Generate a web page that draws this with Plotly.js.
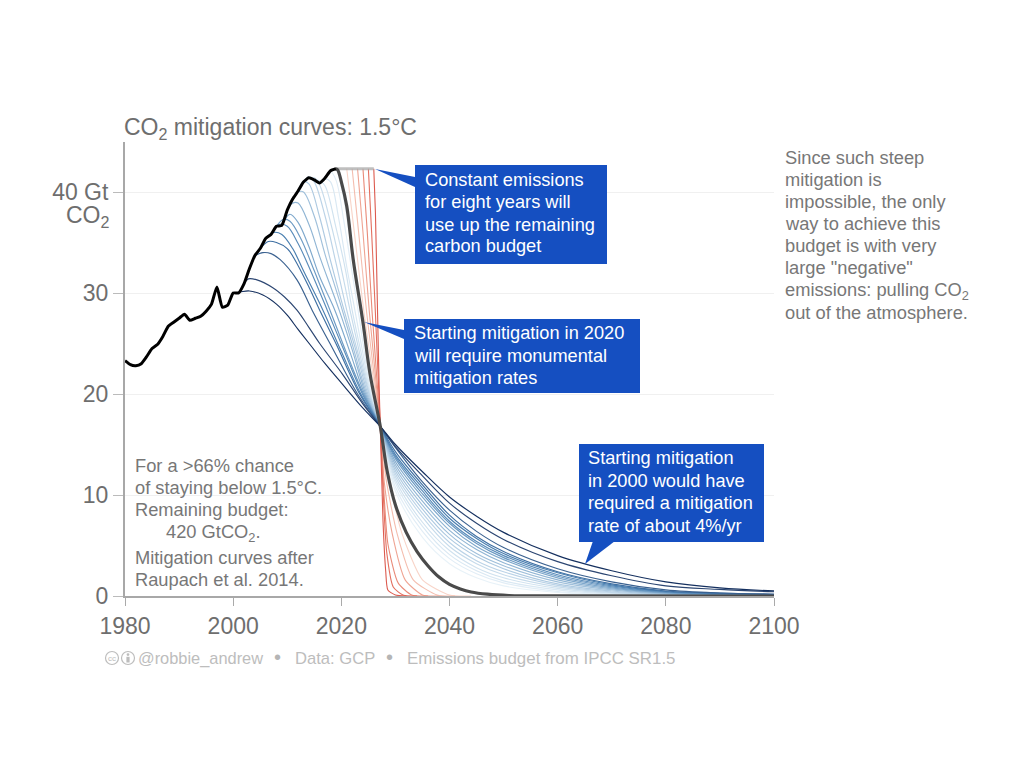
<!DOCTYPE html>
<html><head><meta charset="utf-8">
<script src="https://cdn.plot.ly/plotly-3.0.1.min.js"></script>
<style>html,body{margin:0;padding:0;background:#fff}#c{width:1024px;height:768px}</style>
</head><body><div id="c"></div>
<script>
// History
const histYears=[1980,1981,1982,1983,1984,1985,1986,1987,1988,1989,1990,1991,1992,1993,1994,1995,1996,1997,1998,1999,2000,2001,2002,2003,2004,2005,2006,2007,2008,2009,2010,2011,2012,2013,2014,2015,2016,2017,2018,2019];
const histVals=[23.3,22.9,22.8,23.0,23.7,24.5,24.9,25.7,26.7,27.1,27.5,27.9,27.3,27.5,27.7,28.2,28.9,30.6,28.6,28.8,30.0,30.0,30.9,32.4,33.7,34.4,35.4,35.8,36.6,36.7,38.2,39.3,40.1,41.0,41.4,41.2,40.9,41.4,42.1,42.3];
const constYears=[2019,2026];
const constVals=[42.3,42.3];
// Shared tail years for the blue curves
const tailYears=[2027.2,2030,2035,2040,2045,2050,2060,2070,2080,2090,2100];
// Blue curves: start-of-mitigation year, head and tail
const hx2000=[2000,2001.3,2003,2005.5,2008,2010,2012,2014.2,2017,2020,2024];
const hy2000=[30.0,30.1,30.2,29.8,28.9,27.8,26.4,24.9,23,21.1,18.6];
const ty2000=[16.8,15,12.3,9.8,7.9,6.3,4.0,2.5,1.4,0.8,0.5];
const hx2002=[2002,2002.8,2004.4,2007.4,2009.5,2011.8,2014,2016,2020.3,2024];
const hy2002=[30.9,31.4,31.3,30.5,29.6,28.3,26.6,25,21.9,19];
const ty2002=[16.8,14.8,11.9,9.2,7.2,5.6,3.4,2.0,1.0,0.65,0.42];
const hx2004=[2004,2005.5,2007,2008.7,2011.8,2014.6,2017.9,2023];
const hy2004=[33.7,34.0,33.9,33.3,31.3,28.3,25.0,20.0];
const ty2004=[16.8,14.7,11.3,8.5,6.4,4.8,2.7,1.4,0.6,0.3,0.2];
const hx2005=[2005,2006.5,2008,2010,2011.4,2014,2016,2019,2023.4];
const hy2005=[34.4,35.1,35,34.4,33.3,30.6,28.3,25,20];
const ty2005=[16.8,14.3,11,8,5.9,4.4,2.4,1.2,0.5,0.3,0.15];
const hx2006=[2006,2007.5,2009,2011,2013,2016.6,2020,2023.6];
const hy2006=[35.4,36,35.8,34.4,32.2,28.3,24.2,20];
const ty2006=[16.8,14,10.7,7.7,5.7,4.2,2.3,1.1,0.45,0.25,0.12];
const hx2007=[2007,2008.5,2010,2012,2014,2017.4,2020.5,2023.9];
const hy2007=[35.8,36.8,36.6,34.9,32.6,28.3,24.3,20];
const ty2007=[16.8,13.8,10.4,7.4,5.4,4.0,2.1,1.0,0.4,0.2,0.1];
const hx2008=[2008,2009.3,2010.5,2012.5,2015,2017.9,2021,2024.1];
const hy2008=[36.6,37.3,37.1,35.4,32.2,28.3,24,20];
const ty2008=[16.8,13.6,10.1,7.2,5.2,3.8,1.95,0.9,0.35,0.2,0.1];
const hx2009=[2009.5,2010.5,2012,2014,2016,2018.8,2021.5,2024.3];
const hy2009=[37.2,37.8,37,34.6,31.6,28.3,24.3,20];
const ty2009=[16.8,13.3,9.8,6.9,4.9,3.6,1.8,0.8,0.3,0.15,0.08];
const hx2010=[2010,2011,2012,2014,2016,2019.6,2022,2024.5];
const hy2010=[38.2,38.9,38.9,36.8,33.6,28.3,24.4,20];
const ty2010=[16.8,13,9.4,6.5,4.6,3.3,1.6,0.7,0.25,0.12,0.07];
const hx2011=[2011,2012,2013,2015,2017,2019.9,2022.2,2024.7];
const hy2011=[39.3,40,40,37.6,33.8,28.8,24.6,20];
const ty2011=[16.8,12.7,9,6.1,4.2,3.0,1.4,0.6,0.2,0.1,0.06];
const hx2012=[2012,2013,2014,2016,2018,2020.5,2022.7,2024.9];
const hy2012=[40.1,41,40.8,37.5,33.2,28.3,24.3,20];
const ty2012=[16.8,12.4,8.6,5.7,3.9,2.7,1.2,0.5,0.18,0.08,0.05];
const hx2013=[2013,2014,2015,2017,2019,2021,2023.1,2025.1];
const hy2013=[41,41.5,41,37.6,33,28.3,24,20];
const ty2013=[16.8,12.1,8.2,5.3,3.5,2.4,1.05,0.4,0.15,0.07,0.04];
const hx2014=[2014,2015,2016,2018,2020,2021.6,2023.4,2025.2];
const hy2014=[41.4,41.4,40.7,37,32.4,28.3,24,20];
const ty2014=[16.8,11.8,7.8,4.9,3.2,2.1,0.9,0.33,0.12,0.06,0.03];
const hx2015=[2015,2016,2017,2019,2020.8,2022,2023.7,2025.3];
const hy2015=[41.2,41.1,40.6,36.5,32.2,28.3,24,20];
const ty2015=[16.8,11.5,7.3,4.5,2.8,1.8,0.75,0.27,0.1,0.05,0.02];
const hx2016=[2016,2017,2018,2019.5,2021,2022.5,2024,2025.4];
const hy2016=[40.9,41.3,41,37.4,32.6,28.3,24,20];
const ty2016=[16.8,11.2,6.9,4.1,2.5,1.5,0.6,0.2,0.08,0.04,0.02];
const hx2017=[2017,2018,2019,2020.5,2022,2023.1,2024.3,2025.5];
const hy2017=[41.4,42,41.2,37,32,28.3,24,20];
const ty2017=[16.8,10.8,6.4,3.7,2.2,1.3,0.45,0.15,0.06,0.03,0.01];
const hx2018=[2018,2019,2020,2021.3,2022.6,2023.5,2024.6,2025.6];
const hy2018=[42.1,42.2,40.5,36.5,32,28.3,24,20];
const ty2018=[16.8,10.4,5.8,3.2,1.8,1.0,0.35,0.1,0.04,0.02,0.01];
// Thick 2020 curve
const thickYears=[2018.9,2019.3,2020,2021,2022.2,2024,2025.3,2027.2,2028.5,2030,2032,2034,2036,2038,2040,2042,2044,2047,2051,2060,2100];
const thickVals=[42.3,42.2,41,38.6,33.3,27.1,22,16.8,12.3,9.0,6.3,4.4,3.0,1.9,1.15,0.7,0.4,0.18,0.05,0.01,0];
// Red curves
const rx2026=[2026,2026.3,2026.7,2027,2027.2,2027.7,2028.2,2028.6,2030,2032];
const ry2026=[42.3,38,28,20.5,16.8,7.5,2.5,0.6,0.1,0];
const rx2025=[2025,2025.6,2026.3,2027.2,2027.8,2028.4,2029.6,2031.4,2034];
const ry2025=[42.3,36,28,16.8,9.5,4.3,0.9,0.1,0];
const rx2024=[2024,2024.8,2025.7,2027.2,2027.9,2028.6,2030.5,2033,2036];
const ry2024=[42.3,36,28,16.8,10,5.2,1.3,0.1,0];
const rx2023=[2023,2024,2025.2,2027.2,2028,2029.4,2031.8,2035,2038];
const ry2023=[42.3,36,28,16.8,11,6.2,1.6,0.1,0];
const rx2022=[2022,2023.2,2024.7,2027.2,2028.3,2030.3,2033.3,2037.7,2041];
const ry2022=[42.3,36,28,16.8,11.5,6.2,1.6,0.1,0];
const rx2021=[2021,2022.4,2024.2,2027.2,2028.6,2031.2,2035,2040,2044];
const ry2021=[42.3,36,28,16.8,12,6.2,1.6,0.1,0];
// Colours
const blueColors={2000:"#15305f",2002:"#2c4672",2004:"#3a6190",2005:"#3f70a3",2006:"#4a7fb0",2007:"#5a8cba",2008:"#6c9ac3",2009:"#7ea8cc",2010:"#90b5d4",2011:"#a0c0db",2012:"#aecae1",2013:"#bbd3e7",2014:"#c6dbeb",2015:"#d0e2ef",2016:"#d9e8f3",2017:"#e1edf6",2018:"#e8f2f8"};
const redColors={2026:"#dc5a4e",2025:"#e36f5f",2024:"#e98a78",2023:"#efa493",2022:"#f4bdae",2021:"#f8d4c8"};
const xTickVals=[1980,2000,2020,2040,2060,2080,2100];
const yTickVals=[0,10,20,30,40];
const yTickText=["0","10","20","30","40 Gt"];

const blues=[[2018,hx2018,hy2018,ty2018],[2017,hx2017,hy2017,ty2017],[2016,hx2016,hy2016,ty2016],[2015,hx2015,hy2015,ty2015],[2014,hx2014,hy2014,ty2014],[2013,hx2013,hy2013,ty2013],[2012,hx2012,hy2012,ty2012],[2011,hx2011,hy2011,ty2011],[2010,hx2010,hy2010,ty2010],[2009,hx2009,hy2009,ty2009],[2008,hx2008,hy2008,ty2008],[2007,hx2007,hy2007,ty2007],[2006,hx2006,hy2006,ty2006],[2005,hx2005,hy2005,ty2005],[2004,hx2004,hy2004,ty2004],[2002,hx2002,hy2002,ty2002],[2000,hx2000,hy2000,ty2000]];
const reds=[[2021,rx2021,ry2021],[2022,rx2022,ry2022],[2023,rx2023,ry2023],[2024,rx2024,ry2024],[2025,rx2025,ry2025],[2026,rx2026,ry2026]];

const traces=[];
reds.forEach(r=>traces.push({x:r[1],y:r[2],mode:'lines',line:{color:redColors[r[0]],width:1.1,shape:'spline',smoothing:0.6},hoverinfo:'skip'}));
blues.forEach(b=>traces.push({x:b[1].concat(tailYears),y:b[2].concat(b[3]),mode:'lines',line:{color:blueColors[b[0]],width:1.15,shape:'spline',smoothing:1},hoverinfo:'skip'}));
traces.push({x:constYears,y:constVals,mode:'lines',line:{color:'rgba(170,170,170,0.75)',width:3},hoverinfo:'skip'});
traces.push({x:thickYears,y:thickVals,mode:'lines',line:{color:'#4a4a4a',width:3.2,shape:'spline',smoothing:1},hoverinfo:'skip'});
traces.push({x:histYears,y:histVals,mode:'lines',line:{color:'#000',width:3,shape:'spline',smoothing:0.5},hoverinfo:'skip'});

// layout geometry helpers (page pixels -> paper fractions)
const L=125,R=774,T=142,B=596;
const px=v=>(v-L)/(R-L), py=v=>(B-v)/(B-T);
const FONT='"Liberation Sans", Arial, sans-serif';
const txt=(x,y,text,size,color,anchor)=>({xref:'paper',yref:'paper',x:px(anchor==='right'?x+2:(anchor==='center'?x:x-2)),y:py(y),text:text,showarrow:false,xanchor:anchor||'left',yanchor:'middle',align:'left',font:{family:FONT,size:size,color:color}});
const BLUE='#154fc1',GREY='#6e6e6e',NOTE='#777777',FOOT='#bdbdbd';
const annos=[];
annos.push(txt(124,128,'CO<sub>2</sub> mitigation curves: 1.5°C',23,GREY));
annos.push(txt(110,216,'CO<sub>2</sub>',23,GREY,'right'));
[['Constant emissions',180],['for eight years will',202],['use up the remaining',225],['carbon budget',246]].forEach(a=>annos.push(txt(425,a[1],a[0],18.2,'#fff')));
[['Starting mitigation in 2020',333],['will require monumental',356],['mitigation rates',378]].forEach(a=>annos.push(txt(414,a[1],a[0],18.2,'#fff')));
[['Starting mitigation',458],['in 2000 would have',481],['required a mitigation',503],['rate of about 4%/yr',526]].forEach(a=>annos.push(txt(588,a[1],a[0],18.2,'#fff')));
[['For a &gt;66% chance',135,465],['of staying below 1.5°C.',135,487],['Remaining budget:',135,509],['420 GtCO<sub>2</sub>.',166,533],['Mitigation curves after',135,557],['Raupach et al. 2014.',135,579]].forEach(a=>annos.push(txt(a[1],a[2],a[0],18.3,NOTE)));
[['Since such steep',157],['mitigation is',179],['impossible, the only',201],['way to achieve this',223],['budget is with very',245],['large "negative"',267],['emissions: pulling CO<sub>2</sub>',291],['out of the atmosphere.',312]].forEach(a=>annos.push(txt(785,a[1],a[0],18.3,NOTE)));
annos.push(txt(138,658,'@robbie_andrew',16.4,FOOT));
annos.push(txt(274,657,'•',20,'#b5b5b5'));
annos.push(txt(295,658,'Data: GCP',16.6,FOOT));
annos.push(txt(386,657,'•',20,'#b5b5b5'));
annos.push(txt(407,658,'Emissions budget from IPCC SR1.5',16.9,FOOT));
annos.push(txt(112,658,'cc',8,FOOT,'center'));

const rect=(x0,y0,x1,y1)=>({type:'rect',xref:'paper',yref:'paper',x0:px(x0),x1:px(x1),y0:py(y0),y1:py(y1),fillcolor:BLUE,line:{width:0},layer:'above'});
const tri=(pts)=>({type:'path',xref:'paper',yref:'paper',path:'M'+pts.map(p=>px(p[0])+','+py(p[1])).join('L')+'Z',fillcolor:BLUE,line:{width:0},layer:'above'});
const circ=(cx,cy,r)=>({type:'circle',xref:'paper',yref:'paper',x0:px(cx-r),x1:px(cx+r),y0:py(cy+r),y1:py(cy-r),line:{color:FOOT,width:1.2},fillcolor:'rgba(0,0,0,0)'});
const shapes=[
 rect(415,165,607,264),tri([[375,169],[415,177],[415,187]]),
 rect(404,319,640,393),tri([[364,322],[404,330],[404,339]]),
 rect(579,444,764,542),tri([[585,564],[593,541],[615,541]]),
 circ(112,658,6.5),circ(128,658,6.5),
 {type:'circle',xref:'paper',yref:'paper',x0:px(126.6),x1:px(129.4),y0:py(656),y1:py(653.2),fillcolor:FOOT,line:{width:0}},
 {type:'rect',xref:'paper',yref:'paper',x0:px(126.4),x1:px(129.6),y0:py(662.5),y1:py(656.8),fillcolor:FOOT,line:{width:0}}
];

const layout={width:1024,height:768,paper_bgcolor:'#fff',plot_bgcolor:'#fff',showlegend:false,
 margin:{l:L,r:1024-R,t:T,b:768-B,pad:0},
 font:{family:FONT,color:GREY},
 xaxis:{range:[1980,2100],tickmode:'array',tickvals:xTickVals,ticks:'outside',ticklen:8,tickcolor:'#aaa',tickwidth:1,showline:true,linecolor:'#a8a8a8',linewidth:2,showgrid:false,zeroline:false,tickfont:{family:FONT,size:23,color:GREY}},
 yaxis:{range:[0,44.95],tickmode:'array',tickvals:yTickVals,ticktext:yTickText,ticks:'outside',ticklen:10,tickcolor:'#bbb',tickwidth:1,showline:true,linecolor:'#a8a8a8',linewidth:2,showgrid:true,gridcolor:'#f0f0f0',gridwidth:1,zeroline:false,tickfont:{family:FONT,size:23,color:GREY}},
 annotations:annos,shapes:shapes};
Plotly.newPlot('c',traces,layout,{displayModeBar:false,staticPlot:true});
</script></body></html>
